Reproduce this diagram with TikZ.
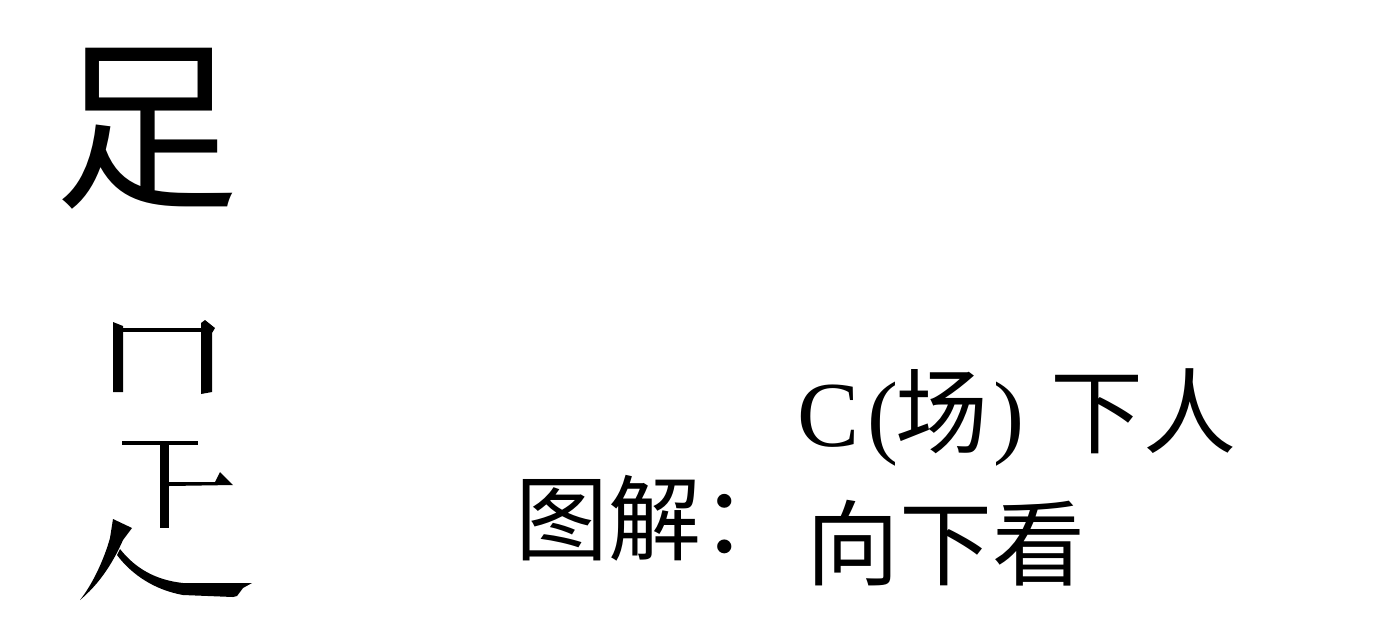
\documentclass[tikz,border=0pt]{standalone}
\usepackage{fontspec}
\newfontfamily\cjk{Noto Sans CJK SC}
\newfontfamily\lat{Liberation Serif}
\begin{document}
\begin{tikzpicture}[x=1pt,y=-1pt,
  inkstroke/.style={fill=black,draw=none},
  bigchar/.style={font=\cjk\fontsize{185}{185}\selectfont, inner sep=0pt},
  txt/.style={font=\cjk\fontsize{93}{117}\selectfont, inner sep=0pt}]
\useasboundingbox (0,0) rectangle (1391,643);
\fill[white] (0,0) rectangle (1391,643);

\node[bigchar] (zu) at (147,129) {足};

% upper part (kou without bottom stroke)
\fill[inkstroke] (113,322) -- (123,326) -- (123,392) -- (113,392) -- cycle;
\fill[inkstroke] (123,328) rectangle (202,332);
\fill[inkstroke] (201,323) -- (205,320) -- (215,328) -- (212,333) -- (212,392) -- (201,394) -- cycle;

% xia part
\fill[inkstroke] (122,441) rectangle (198,445);
\fill[inkstroke] (160,445) rectangle (169,528);
\fill[inkstroke] (169,482) -- (215,482) -- (220,472) -- (233,485) -- (169,486) -- cycle;

% ren part
\fill[inkstroke] (113,519) -- (132,528) -- (123,540) .. controls (112,565) and (98,585) .. (80,600) .. controls (92,585) and (104,560) .. (110,538) -- cycle;
\fill[inkstroke] (120,549) .. controls (135,568) and (155,580) .. (183,583) -- (252,583) -- (243,588) -- (237,596) -- (233,597) -- (183,595) .. controls (155,590) and (132,575) .. (117,555) -- cycle;

\node[txt, anchor=north west] (tujie) at (515,475) {图解：};
\node[txt, anchor=north west] (descA) at (797,368) {{\lat C\hspace{8pt}(}\hspace{-3pt}场\hspace{5pt}{\lat )}\hspace{26pt}下人};
\node[txt, anchor=north west] (descB) at (806,500) {向下看};
\end{tikzpicture}
\end{document}
